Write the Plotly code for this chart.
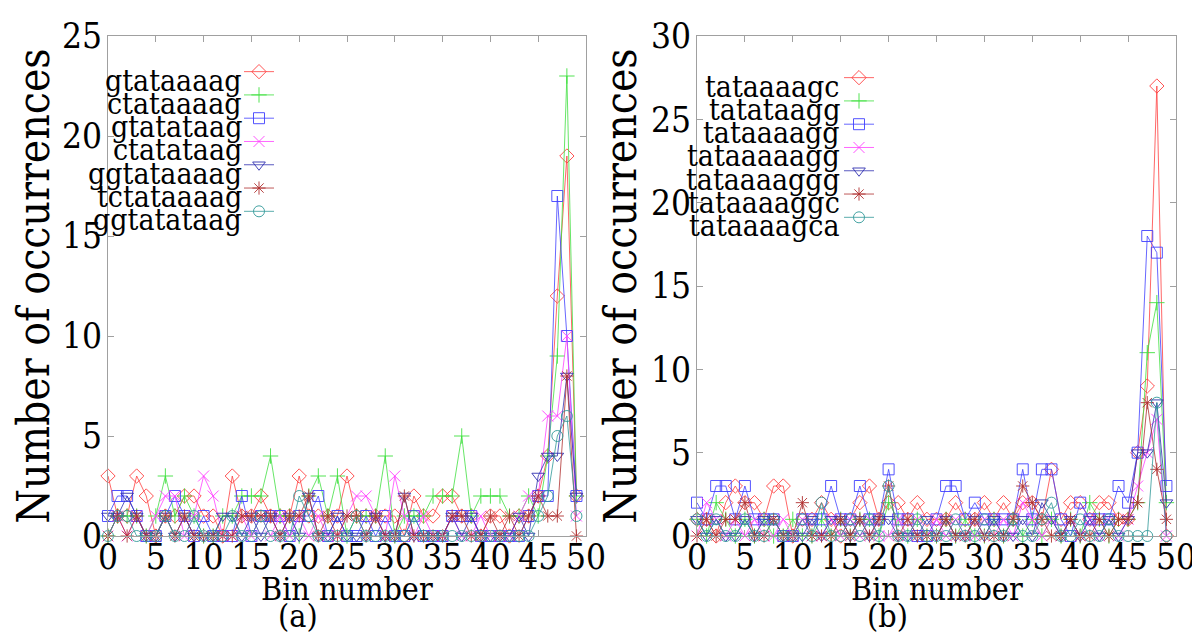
import plotly.graph_objects as go

bins = list(range(50))

names_a = ["gtataaaag", "ctataaaag", "gtatataag", "ctatataag", "ggtataaaag", "tctataaaag", "ggtatataag"]
names_b = ["tataaaagc", "tatataagg", "tataaaagg", "tataaaaagg", "tataaaaggg", "tataaaaggc", "tataaaagca"]

a_gtataaaag = [3, 1, 1, 3, 2, 0, 1, 1, 2, 2, 1, 1, 0, 3, 1, 1, 2, 1, 1, 1, 3, 1, 1, 1, 1, 3, 1, 1, 1, 1, 1, 0, 2, 1, 1, 2, 2, 1, 1, 0, 1, 1, 0, 1, 1, 2, 4, 12, 19, 2]
a_ctataaaag = [0, 1, 1, 1, 0, 1, 3, 1, 2, 1, 0, 0, 1, 1, 2, 2, 2, 4, 1, 1, 0, 2, 3, 1, 3, 0, 1, 1, 1, 4, 0, 1, 1, 1, 2, 2, 2, 5, 1, 2, 2, 2, 1, 1, 2, 1, 4, 9, 23, 2]
a_gtatataag = [1, 2, 2, 1, 0, 0, 1, 2, 1, 0, 1, 0, 0, 0, 2, 0, 1, 1, 1, 0, 1, 1, 2, 0, 1, 0, 0, 1, 0, 1, 0, 0, 1, 0, 0, 0, 1, 1, 1, 0, 0, 0, 0, 0, 1, 2, 2, 17, 10, 2]
a_ctatataag = [0, 1, 0, 1, 0, 1, 2, 2, 0, 1, 3, 2, 0, 0, 1, 0, 1, 0, 1, 0, 1, 0, 1, 0, 0, 1, 2, 2, 1, 0, 3, 1, 0, 1, 0, 0, 1, 0, 0, 1, 0, 0, 0, 1, 2, 2, 6, 6, 10, 1]
a_ggtataaaag = [1, 1, 2, 1, 0, 0, 1, 0, 1, 0, 0, 0, 1, 1, 0, 1, 0, 1, 0, 1, 0, 2, 0, 0, 1, 0, 0, 0, 1, 0, 0, 2, 0, 0, 0, 0, 1, 0, 1, 0, 0, 0, 0, 1, 0, 3, 4, 4, 8, 2]
a_tctataaaag = [0, 1, 0, 1, 0, 0, 1, 0, 1, 0, 0, 0, 0, 0, 1, 1, 1, 1, 0, 1, 1, 2, 0, 1, 0, 1, 1, 0, 1, 0, 0, 2, 0, 0, 0, 0, 1, 1, 0, 0, 1, 0, 1, 0, 1, 2, 1, 1, 8, 0]
a_ggtatataag = [0, 1, 1, 0, 0, 0, 1, 0, 0, 1, 0, 0, 0, 1, 0, 0, 1, 0, 0, 0, 2, 1, 0, 0, 0, 0, 1, 0, 0, 0, 0, 0, 1, 0, 0, 0, 0, 0, 0, 0, 0, 0, 0, 0, 0, 1, 2, 5, 6, 1]

b_tataaaagc = [1, 1, 0, 2, 3, 2, 2, 1, 3, 3, 0, 1, 1, 2, 1, 0, 1, 2, 3, 1, 2, 2, 1, 2, 1, 1, 1, 2, 1, 1, 2, 1, 2, 1, 2, 2, 1, 4, 1, 2, 2, 1, 2, 2, 1, 1, 5, 9, 27, 0]
b_tatataagg = [1, 0, 2, 1, 0, 1, 0, 1, 0, 0, 1, 0, 0, 1, 0, 1, 0, 1, 1, 0, 2, 1, 0, 1, 0, 0, 1, 0, 1, 0, 0, 1, 0, 1, 0, 1, 0, 1, 0, 1, 0, 2, 1, 0, 1, 1, 2, 11, 14, 2]
b_tataaaagg = [2, 1, 3, 3, 1, 3, 1, 1, 1, 0, 0, 1, 1, 1, 3, 1, 1, 3, 1, 1, 4, 1, 1, 0, 0, 1, 3, 3, 1, 2, 1, 1, 1, 1, 4, 1, 4, 4, 1, 0, 2, 1, 1, 1, 3, 2, 5, 18, 17, 3]
b_tataaaaagg = [0, 2, 1, 0, 1, 0, 1, 0, 0, 1, 0, 1, 0, 0, 1, 0, 1, 0, 1, 0, 0, 1, 0, 1, 0, 1, 0, 1, 0, 0, 1, 0, 1, 0, 2, 1, 0, 1, 0, 1, 0, 1, 0, 1, 0, 1, 3, 5, 7, 0]
b_tataaaaggg = [1, 0, 1, 0, 0, 1, 0, 1, 1, 0, 0, 0, 1, 0, 1, 1, 0, 1, 0, 1, 1, 0, 0, 0, 1, 0, 1, 0, 0, 1, 0, 1, 0, 0, 1, 0, 2, 1, 0, 1, 0, 1, 0, 1, 0, 1, 5, 5, 8, 2]
b_tataaaaggc = [0, 1, 0, 1, 1, 2, 0, 0, 1, 0, 0, 2, 0, 0, 0, 1, 0, 1, 0, 1, 3, 0, 1, 0, 0, 0, 1, 0, 0, 1, 0, 0, 0, 1, 3, 2, 1, 0, 0, 1, 0, 0, 1, 0, 1, 1, 2, 8, 4, 1]
b_tataaaagca = [1, 0, 1, 0, 0, 1, 0, 0, 1, 0, 0, 1, 0, 2, 0, 0, 1, 0, 1, 0, 3, 0, 0, 1, 0, 0, 0, 1, 0, 0, 1, 0, 0, 1, 0, 0, 1, 2, 0, 0, 1, 0, 0, 1, 0, 0, 0, 0, 8, 0]

series_a = [a_gtataaaag, a_ctataaaag, a_gtatataag, a_ctatataag, a_ggtataaaag, a_tctataaaag, a_ggtatataag]
series_b = [b_tataaaagc, b_tatataagg, b_tataaaagg, b_tataaaaagg, b_tataaaaggg, b_tataaaaggc, b_tataaaagca]

colors = ["#ff4040", "#40e040", "#4040ff", "#ff40ff", "#3030b0", "#b03030", "#309898"]
symbols = ["diamond-open", "cross-thin-open", "square-open", "x-thin-open",
           "triangle-down-open", "asterisk-open", "circle-open"]

FONT = "DejaVu Serif Condensed, DejaVu Serif, serif"
W, H = 1200, 642

fig = go.Figure()

for k in range(7):
    fig.add_trace(go.Scatter(
        x=bins, y=series_a[k], name=names_a[k], mode="lines+markers",
        xaxis="x", yaxis="y", legend="legend", cliponaxis=False,
        line=dict(color=colors[k], width=0.8),
        marker=dict(symbol=symbols[k], size=11, color=colors[k], line=dict(color=colors[k], width=0.9)),
    ))
for k in range(7):
    fig.add_trace(go.Scatter(
        x=bins, y=series_b[k], name=names_b[k], mode="lines+markers",
        xaxis="x2", yaxis="y2", legend="legend2", cliponaxis=False,
        line=dict(color=colors[k], width=0.8),
        marker=dict(symbol=symbols[k], size=11, color=colors[k], line=dict(color=colors[k], width=0.9)),
    ))

# panel geometry (pixels)
top, bottom = 28, 528
pa = (100, 578)
pb = (689, 1168)

axis_common = dict(showgrid=False, zeroline=False, showline=True, linecolor="#a0a0a0",
                   linewidth=1, mirror="allticks", ticks="inside", ticklen=6, automargin=False,
                   tickcolor="#a0a0a0", tickfont=dict(family=FONT, size=35, color="black"))

ydom = [1 - bottom / H, 1 - top / H]

fig.update_layout(
    width=W, height=H, margin=dict(l=0, r=0, t=0, b=0, autoexpand=False),
    paper_bgcolor="white", plot_bgcolor="white",
    font=dict(family=FONT, color="black"),
    xaxis=dict(domain=[pa[0] / W, pa[1] / W], range=[0, 50], dtick=5, anchor="y",
               ticklabelstandoff=-10, **axis_common),
    yaxis=dict(domain=ydom, range=[0, 25], dtick=5, anchor="x", ticklabelstandoff=-2,
               title=dict(text="Number of occurrences", font=dict(family=FONT, size=44), standoff=10),
               **axis_common),
    xaxis2=dict(domain=[pb[0] / W, pb[1] / W], range=[0, 50], dtick=5, anchor="y2",
                ticklabelstandoff=-10, **axis_common),
    yaxis2=dict(domain=ydom, range=[0, 30], dtick=5, anchor="x2", ticklabelstandoff=-2,
                title=dict(text="Number of occurrences", font=dict(family=FONT, size=44), standoff=0),
                **axis_common),
    legend=dict(x=231 / W, y=1 - 47 / H, xanchor="left", yanchor="top",
                bgcolor="rgba(0,0,0,0)", borderwidth=0, itemwidth=30,
                font=dict(size=15.6, color="rgba(0,0,0,0)")),
    legend2=dict(x=831 / W, y=1 - 53 / H, xanchor="left", yanchor="top",
                 bgcolor="rgba(0,0,0,0)", borderwidth=0, itemwidth=30,
                 font=dict(size=15.6, color="rgba(0,0,0,0)")),
    showlegend=True,
)

# legend labels, right-aligned to the left of the legend keys
step = 23.3
for names, xr, y0 in ((names_a, 236, 72), (names_b, 834, 78)):
    for i, nm in enumerate(names):
        fig.add_annotation(text=nm, xref="paper", yref="paper",
                           x=xr / W, y=1 - (y0 + i * step) / H,
                           xanchor="right", yanchor="middle", showarrow=False,
                           font=dict(family=FONT, size=30, color="black"))

# x-axis titles and panel labels
for (x0, x1), lab in ((pa, "(a)"), (pb, "(b)")):
    fig.add_annotation(text="Bin number", xref="paper", yref="paper", x=(x0 + x1) / 2 / W,
                       y=1 - 581 / H, xanchor="center", yanchor="middle", showarrow=False,
                       font=dict(family=FONT, size=32, color="black"))
for lab, xc in (("(a)", 290), ("(b)", 880)):
    fig.add_annotation(text=lab, xref="paper", yref="paper", x=xc / W, y=1 - 608 / H,
                       xanchor="center", yanchor="middle", showarrow=False,
                       font=dict(family=FONT, size=32, color="black"))

fig.write_html("out.html")
